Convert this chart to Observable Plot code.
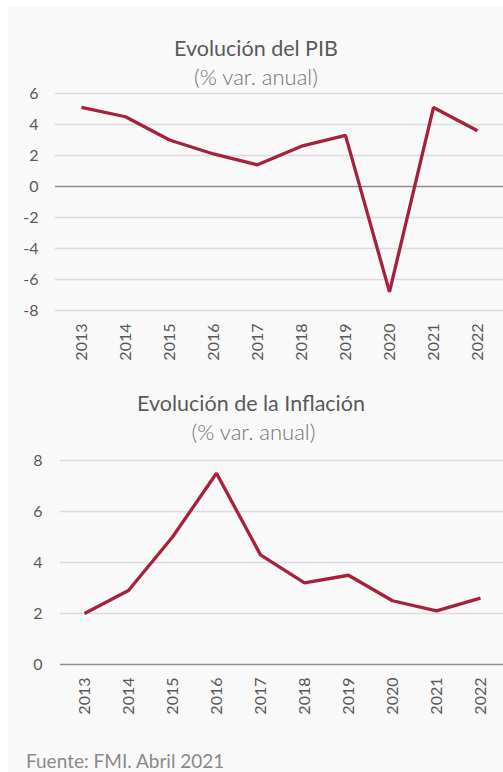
<!DOCTYPE html>
<html><head><meta charset="utf-8">
<script src="https://cdn.jsdelivr.net/npm/d3@7"></script>
<script src="https://cdn.jsdelivr.net/npm/@observablehq/plot@0.6"></script>
<style>
body{margin:0;background:#fff;font-family:Lato,sans-serif;}
#wrap{position:relative;width:503px;height:772px;overflow:hidden;background:#fff;}
#bg{position:absolute;left:8px;top:7px;right:0;bottom:0;background:#f9f9f9;}
.tx{position:absolute;left:0;width:512px;text-align:center;line-height:1;white-space:nowrap;}
.plot{position:absolute;left:0;}
</style></head>
<body>
<div id="wrap">
  <div id="bg"></div>
  <div id="p1" class="plot" style="top:0px"></div>
  <div id="p2" class="plot" style="top:380px"></div>
  <div class="tx" style="top:38px;font-size:21.5px;color:#595959">Evolución del PIB</div>
  <div class="tx" style="top:65.5px;font-size:22px;color:#737373;font-weight:300">(% var. anual)</div>
  <div class="tx" style="top:393px;font-size:21.5px;color:#595959;width:502px">Evolución de la Inflación</div>
  <div class="tx" style="top:420.5px;font-size:22px;color:#737373;font-weight:300;width:507px">(% var. anual)</div>
  <div class="tx" style="top:751px;left:26px;width:auto;text-align:left;font-size:19px;color:#8a8a8a">Fuente: FMI. Abril 2021</div>
</div>
<script>
const years = ["2013","2014","2015","2016","2017","2018","2019","2020","2021","2022"];
const pib = [5.1, 4.5, 3.0, 2.1, 1.4, 2.6, 3.3, -6.8, 5.1, 3.6];
const inflacion = [2.0, 2.9, 5.0, 7.5, 4.3, 3.2, 3.5, 2.5, 2.1, 2.6];
const pibTicks = [-8, -6, -4, -2, 0, 2, 4, 6];
const inflTicks = [0, 2, 4, 6, 8];

const lineColor = "#a6213b";
const gridColor = "#dcdcdc";
const zeroColor = "#8e8e8e";
const textColor = "#595959";

function chart({values, ticks, domain, height, marginTop, marginBottom, marginLeft, tickPad}) {
  const data = years.map((y, i) => ({year: y, value: values[i]}));
  return Plot.plot({
    width: 503,
    height,
    marginTop,
    marginBottom,
    marginLeft,
    marginRight: 0,
    style: {fontFamily: "Lato, sans-serif", fontSize: "16px", color: textColor, background: "transparent", overflow: "visible"},
    x: {type: "point", domain: years, padding: 0.5},
    y: {domain},
    marks: [
      Plot.ruleY(ticks.filter(t => t !== 0), {stroke: gridColor, strokeWidth: 1.5}),
      Plot.ruleY([0], {stroke: zeroColor, strokeWidth: 1.5}),
      Plot.axisY({ticks, tickSize: 0, tickPadding: tickPad, label: null, tickFormat: d => d < 0 ? "-" + Math.abs(d) : String(d)}),
      Plot.axisX({tickRotate: -90, tickSize: 0, tickPadding: 13, label: null}),
      Plot.line(data, {x: "year", y: "value", stroke: lineColor, strokeWidth: 3.3, strokeLinejoin: "miter", strokeLinecap: "butt"})
    ]
  });
}

document.getElementById("p1").append(chart({
  values: pib, ticks: pibTicks, domain: [-8, 6],
  height: 365, marginTop: 93, marginBottom: 55, marginLeft: 55, tickPad: 17
}));
document.getElementById("p2").append(chart({
  values: inflacion, ticks: inflTicks, domain: [0, 8],
  height: 340, marginTop: 80, marginBottom: 56, marginLeft: 60, tickPad: 18
}));
</script>
</body></html>
